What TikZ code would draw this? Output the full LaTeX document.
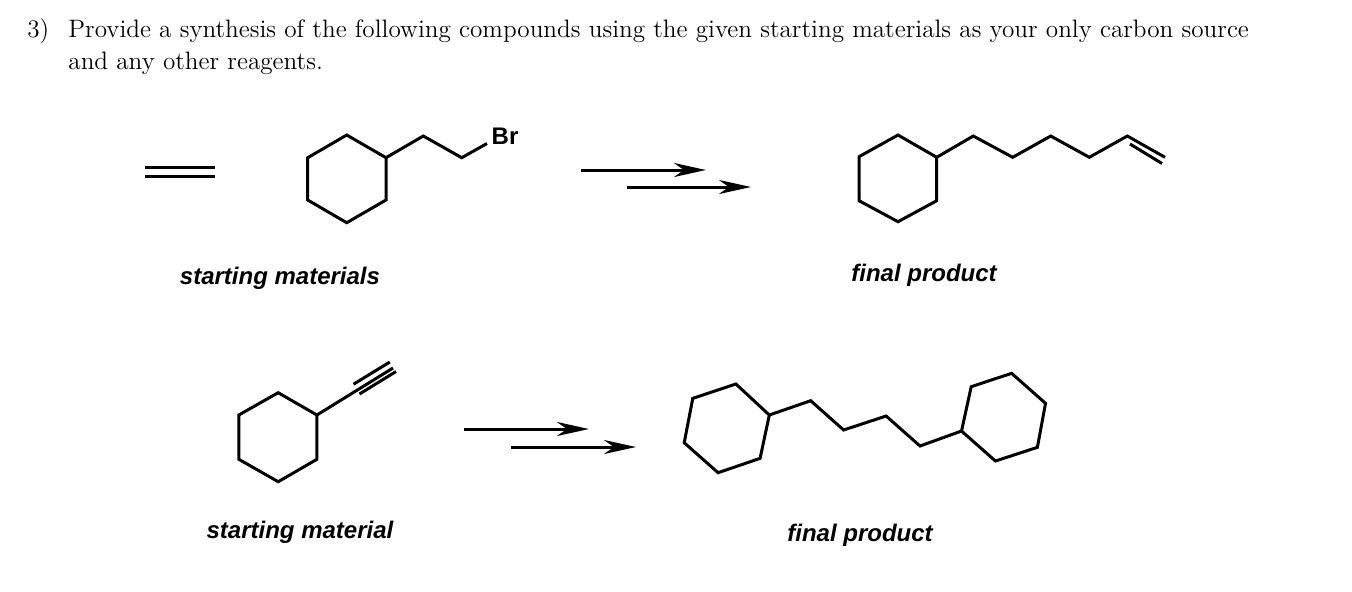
\documentclass[tikz,border=0pt]{standalone}
\usepackage{fontspec}
\newfontfamily\lab{Liberation Sans}
\usetikzlibrary{arrows.meta}
\begin{document}
\begin{tikzpicture}[x=0.5pt,y=-0.5pt,
  bond/.style={line width=1.5pt,line join=miter},
  rxn/.style={line width=1.5pt,-{Stealth[length=16pt,width=7pt,inset=5pt]}},
  lbl/.style={font=\lab\bfseries\itshape\fontsize{12}{14}\selectfont},
  hdr/.style={font=\fontsize{12.6}{16}\selectfont,anchor=base west,inner sep=0}]
\useasboundingbox (0,0) rectangle (1352,591);
\node[hdr] (num) at (27,37) {3)};
\node[hdr] (l1) at (68,37) {Provide a synthesis of the following compounds using the given starting materials as your only carbon source};
\node[hdr] (l2) at (68,69) {and any other reagents.};
% ethylene
\draw[bond] (145,167.7) -- (215,167.7);
\draw[bond] (145,176.7) -- (215,176.7);
% cyclohexyl ethyl bromide
\draw[bond] (346.7,135) -- (386,157.7) -- (386,200) -- (346.7,222.7) -- (307.7,200) -- (307.7,157.7) -- cycle;
\draw[bond] (386,157.7) -- (423.3,136) -- (461.7,157.7) -- (487,143.5);
\node[font=\lab\bfseries\fontsize{12}{14}\selectfont] (br) at (505,136) {Br};
% arrows top
\coordinate (a1s) at (581,170); \coordinate (a1e) at (706,170);
\coordinate (a2s) at (627,187); \coordinate (a2e) at (751,187);
\draw[rxn] (a1s) -- (a1e);
\draw[rxn] (a2s) -- (a2e);
% product 1
\draw[bond] (898,135) -- (936.7,157.3) -- (936.7,200.7) -- (898,221.7) -- (859,200.7) -- (859,156.7) -- cycle;
\draw[bond] (936.7,157.3) -- (973.3,136) -- (1012.7,157.3) -- (1050.7,136) -- (1089.3,157.3) -- (1127.3,136) -- (1165,157.3);
\draw[bond] (1130,144) -- (1162,163.5);
\node[lbl] (sm1) at (280,278) {starting materials};
\node[lbl] (fp1) at (924,275) {final product};
% ethynylcyclohexane
\draw[bond] (278.2,392.7) -- (316.9,415) -- (316.9,459.3) -- (278.2,481.7) -- (238.8,459.3) -- (238.8,415) -- cycle;
\draw[bond] (316.9,415) -- (393,368);
\draw[bond] (353.5,384.2) -- (389.8,362);
\draw[bond] (359.5,394) -- (396,371.5);
% arrows bottom
\coordinate (b1s) at (464,429); \coordinate (b1e) at (589,429);
\coordinate (b2s) at (511,447); \coordinate (b2e) at (636,447);
\draw[rxn] (b1s) -- (b1e);
\draw[rxn] (b2s) -- (b2e);
% product 2
\draw[bond] (735.9,384) -- (769.3,415) -- (760.1,458.3) -- (718.1,472.7) -- (684.2,442.7) -- (692.8,398.3) -- cycle;
\draw[bond] (769.3,415) -- (810.7,400.7) -- (843.6,430) -- (886.1,416) -- (920,446) -- (961.5,431);
\draw[bond] (961.5,431) -- (971.2,386.7) -- (1011.6,373.3) -- (1045.5,403.3) -- (1037.4,447.3) -- (995.4,461) -- cycle;
\node[lbl] (sm2) at (300,532) {starting material};
\node[lbl] (fp2) at (860,535) {final product};
\end{tikzpicture}
\end{document}
